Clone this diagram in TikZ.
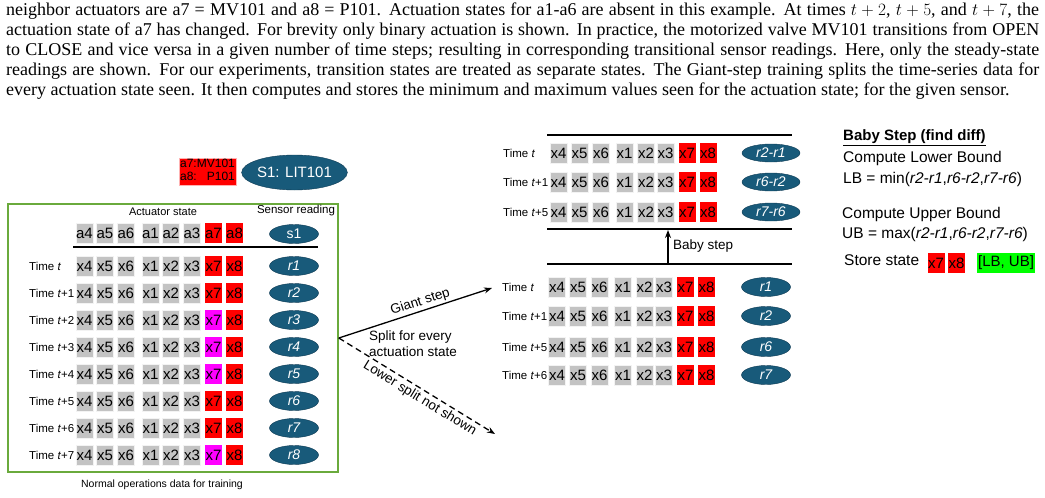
\documentclass[tikz,border=0pt]{standalone}
\usepackage{fontspec}
\setmainfont{Liberation Sans}
\newfontfamily\paperfont{Liberation Serif}
\usetikzlibrary{shapes.geometric,positioning,arrows.meta,calc}

\definecolor{cellgray}{RGB}{195,195,195}
\definecolor{cellred}{RGB}{255,0,0}
\definecolor{cellmag}{RGB}{255,0,255}
\definecolor{cellgreen}{RGB}{0,255,0}
\definecolor{sensblue}{RGB}{24,90,122}
\definecolor{sensedge}{RGB}{16,60,85}
\definecolor{boxgreen}{RGB}{106,170,60}

\begin{document}
\begin{tikzpicture}[x=1pt, y=-1pt,
    para/.style={anchor=north west, text width=1033pt, align=justify, inner sep=0pt,
        font=\paperfont\fontsize{18}{20}\selectfont},
    cell/.style={minimum width=17pt, minimum height=20pt, inner sep=0pt, font=\fontsize{15}{15}\selectfont},
    gcell/.style={cell, fill=cellgray, draw=white!80!cellgray},
    reading/.style={ellipse, fill=sensblue, draw=sensedge, text=white, minimum width=49pt,
        minimum height=19pt, inner sep=0pt, font=\fontsize{14}{14}\selectfont\itshape},
    timelbl/.style={anchor=west, inner sep=0pt, font=\fontsize{11.5}{11.5}\selectfont},
    lbl/.style={inner sep=0pt, align=left, font=\fontsize{13.5}{16.5}\selectfont},
    txt/.style={anchor=west, inner sep=0pt, font=\fontsize{15.5}{15.5}\selectfont},
    rule/.style={line width=1.4pt},
    steparrow/.style={line width=1.3pt, -{Stealth[length=8pt,width=6pt]}},
]
\useasboundingbox (0,0) rectangle (1045,498);

% Paper text above the figure
\node[para] (intro) at (6,3) {neighbor actuators are a7 = MV101 and a8 = P101. Actuation states for a1-a6 are absent in this example. At times $t+2$, $t+5$, and $t+7$, the\linebreak
actuation state of a7 has changed. For brevity only binary actuation is shown. In practice, the motorized valve MV101 transitions from OPEN\linebreak
to CLOSE and vice versa in a given number of time steps; resulting in corresponding transitional sensor readings. Here, only the steady-state\linebreak
readings are shown. For our experiments, transition states are treated as separate states. The Giant-step training splits the time-series data for\linebreak
every actuation state seen. It then computes and stores the minimum and maximum values seen for the actuation state; for the given sensor.};

% Legend and sensor
\node[fill=cellred, draw=white!70!cellred, inner sep=1pt, font=\fontsize{12}{12}\selectfont] (legend) at (207.5,172)
    {\begin{tabular}{@{}l@{}r@{}}a7:&MV101\\[1pt] a8:&P101\end{tabular}};
\node[reading, minimum width=103pt, minimum height=35pt, font=\fontsize{15}{15}\selectfont] (sensor) at (294.5,172.5) {S1: LIT101};

% Training data box
\node[draw=boxgreen, line width=1.6pt, minimum width=330pt, minimum height=268pt] (data) at (173,338) {};
\node[font=\fontsize{11}{11}\selectfont] (actlbl) at (163,212) {Actuator state};
\node[font=\fontsize{11.5}{11.5}\selectfont] (senlbl) at (296,211) {Sensor reading};
\node[font=\fontsize{10.5}{10.5}\selectfont] (datalbl) at (162,485) {Normal operations data for training};

% Header row
\foreach \c/\xx in {4/84.5,5/105,6/126,1/150.5,2/171,3/192}
    \node[gcell] (ha\c) at (\xx,233) {a\c};
\node[cell, fill=cellred] (ha7) at (213.5,233) {a7};
\node[cell, fill=cellred] (ha8) at (234.5,233) {a8};
\node[reading] (hs1) at (294,234) {\upshape s1};
\draw[rule] (73,247) -- (318,247);

% Rows of the training data
\foreach \tl/\yy/\fc [count=\k] in {{}/266/cellred, +1/293/cellred, +2/320/cellmag, +3/347/cellmag,
        +4/374/cellmag, +5/401/cellred, +6/428/cellred, +7/455/cellmag} {
    \node[timelbl] (lt\k) at (29,\yy) {Time \textit{t}\tl};
    \foreach \c/\xx in {4/84.5,5/105,6/126,1/150.5,2/171,3/192}
        \node[gcell] (l\k x\c) at (\xx,\yy) {x\c};
    \node[cell, fill=\fc] (l\k x7) at (213.5,\yy) {x7};
    \node[cell, fill=cellred] (l\k x8) at (234.5,\yy) {x8};
    \node[reading] (lr\k) at (294,\yy) {r\k};
}

% Giant step split
\coordinate (gsend) at (492,288);
\coordinate (lsend) at (495,434);
\draw[steparrow] (data.east) -- node[lbl, sloped, above, inner sep=2pt, pos=0.55] (gslbl) {Giant step} (gsend);
\draw[steparrow, dash pattern=on 6pt off 4pt] (data.east) -- node[lbl, sloped, below, inner sep=2.5pt, pos=0.55] (lslbl) {Lower split not shown} (lsend);
\node[lbl, anchor=west] (splitlbl) at (369,343.5) {Split for every\\actuation state};

% Split for one actuation state
\foreach \tl/\yy/\rv [count=\k] in {{}/287/1, +1/316/2, +5/347/6, +6/375/7} {
    \node[timelbl] (bt\k) at (502,\yy) {Time \textit{t}\tl};
    \foreach \c/\xx in {4/557,5/578,6/599.5,1/623,2/644.5,3/664}
        \node[gcell] (b\k x\c) at (\xx,\yy) {x\c};
    \node[cell, fill=cellred] (b\k x7) at (685.5,\yy) {x7};
    \node[cell, fill=cellred] (b\k x8) at (706.5,\yy) {x8};
    \node[reading] (br\k) at (766,\yy) {r\rv};
}
\draw[rule] (547,264) -- (792,264);

% Baby step differences
\coordinate (bsfrom) at (668,264);
\coordinate (bsto) at (668,230);
\draw[steparrow] (bsfrom) -- (bsto);
\node[lbl, anchor=west] (bslbl) at (673,246) {Baby step};
\draw[rule] (547,135) -- (792,135);
\draw[rule] (547,229) -- (792,229);
\foreach \tl/\yy/\dv [count=\k] in {{}/153/r2-r1, +1/182/r6-r2, +5/212/r7-r6} {
    \node[timelbl] (dt\k) at (503,\yy) {Time \textit{t}\tl};
    \foreach \c/\xx in {4/558.5,5/579.5,6/601,1/624.5,2/646,3/665.5}
        \node[gcell] (d\k x\c) at (\xx,\yy) {x\c};
    \node[cell, fill=cellred] (d\k x7) at (687,\yy) {x7};
    \node[cell, fill=cellred] (d\k x8) at (708,\yy) {x8};
    \node[reading, minimum width=58pt, minimum height=18pt] (dr\k) at (771,\yy) {\dv};
}

% Bounds
\node[txt, font=\fontsize{15}{15}\selectfont\bfseries] (bshead) at (843,138) {\underline{Baby Step (find diff)}};
\node[txt] (lbtxt) at (843,158) {Compute Lower Bound};
\node[txt] (lbeq) at (843,179) {LB = min(\textit{r2-r1},\textit{r6-r2},\textit{r7-r6})};
\node[txt] (ubtxt) at (842,214) {Compute Upper Bound};
\node[txt] (ubeq) at (842,234) {UB = max(\textit{r2-r1},\textit{r6-r2},\textit{r7-r6})};
\node[txt] (store) at (844,260) {Store state};
\node[cell, fill=cellred] (sx7) at (936,263) {x7};
\node[cell, fill=cellred] (sx8) at (956.5,263) {x8};
\node[cell, fill=cellgreen, minimum width=58pt] (sbound) at (1006,263) {[LB, UB]};

\end{tikzpicture}
\end{document}
